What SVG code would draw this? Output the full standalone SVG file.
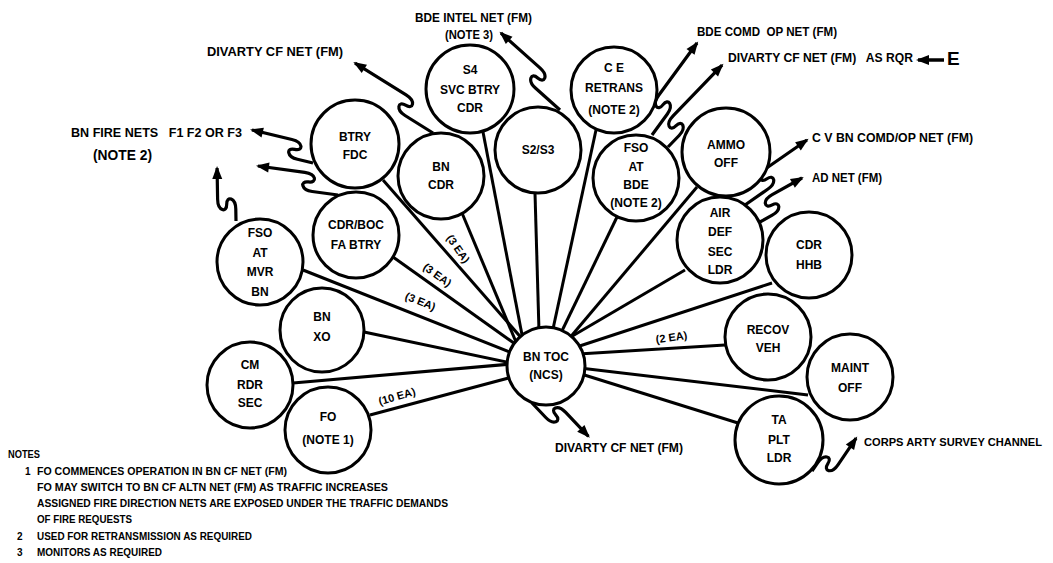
<svg xmlns="http://www.w3.org/2000/svg" width="1053" height="563" viewBox="0 0 1053 563">
<style>
text{font-family:"Liberation Sans",Arial,sans-serif;font-weight:bold;fill:#000}
.n text{font-size:12px;text-anchor:middle}
.n circle{fill:#fff;stroke:#000;stroke-width:3}
.ln line{stroke:#000;stroke-width:3}
.sq{fill:none;stroke:#000;stroke-width:3.2;stroke-linejoin:round;marker-end:url(#ah)}
.lab{font-size:12px}
.ea{font-size:11px;text-anchor:middle;stroke:#fff;stroke-width:4;paint-order:stroke}
.note{font-size:10px}
</style>
<defs>
<marker id="ah" markerUnits="userSpaceOnUse" markerWidth="14" markerHeight="12" refX="11" refY="5" orient="auto" overflow="visible">
<path d="M0,0 L13,5 L0,10 Z" fill="#000"/>
</marker>
</defs>
<rect width="1053" height="563" fill="#fff"/>
<g id="connectors" class="ln">
<line x1="303" y1="270" x2="520" y2="356"/>
<line x1="364" y1="332" x2="540" y2="369"/>
<line x1="293" y1="383" x2="546" y2="361"/>
<line x1="370" y1="415" x2="546" y2="368"/>
<line x1="393" y1="257" x2="546" y2="366"/>
<line x1="383" y1="180" x2="546" y2="366"/>
<line x1="462" y1="213" x2="526" y2="366"/>
<line x1="483" y1="132" x2="528" y2="366"/>
<line x1="535" y1="193" x2="540" y2="366"/>
<line x1="596" y1="130" x2="545" y2="366"/>
<line x1="617" y1="217" x2="545" y2="366"/>
<line x1="697" y1="187" x2="546" y2="366"/>
<line x1="685" y1="270" x2="540" y2="355"/>
<line x1="772" y1="283" x2="546" y2="357"/>
<line x1="725" y1="345" x2="546" y2="356"/>
<line x1="808" y1="395" x2="546" y2="364"/>
<line x1="738" y1="423" x2="546" y2="363"/>
</g>
<g id="link-labels">
<text class="ea" transform="translate(455,251) rotate(55)">(3 EA)</text>
<text class="ea" transform="translate(435,278) rotate(36)">(3 EA)</text>
<text class="ea" transform="translate(419,305) rotate(22)">(3 EA)</text>
<text class="ea" transform="translate(672,341) rotate(-8)">(2 EA)</text>
<text class="ea" transform="translate(398,400) rotate(-16)">(10 EA)</text>
</g>
<g id="radio-nets">
<path class="sq" transform="translate(236,221) rotate(-91)" d="M0,0 H12 C23,0 26,-9 17,-9 C8,-9 10,-18 22,-18 H53.3"/>
<path class="sq" transform="translate(338,195) rotate(-172.3)" d="M0,0 H26 C37,0 40,9 31,9 C22,9 24,18 36,18 H83.2"/>
<path class="sq" transform="translate(313,163) rotate(-166.6)" d="M0,0 H16 C27,0 30,9 21,9 C12,9 14,18 26,18 H67"/>
<path class="sq" transform="translate(433,133) rotate(-148)" d="M0,0 H33 C44,0 47,9 38,9 C29,9 31,18 43,18 H103.2"/>
<path class="sq" transform="translate(560,110) rotate(-138.2)" d="M0,0 H33 C44,0 47,9 38,9 C29,9 31,18 43,18 H95.3"/>
<path class="sq" transform="translate(652,135) rotate(-53.8)" d="M0,0 H26 C37,0 40,-9 31,-9 C22,-9 24,-18 36,-18 H100.8"/>
<path class="sq" transform="translate(668,147) rotate(-46)" d="M0,0 H16 C27,0 30,-9 21,-9 C12,-9 14,-18 26,-18 H96.5"/>
<path class="sq" transform="translate(745,205) rotate(-34.8)" d="M0,0 H28 C39,0 42,-9 33,-9 C24,-9 26,-18 38,-18 H88"/>
<path class="sq" transform="translate(760,222) rotate(-29.1)" d="M0,0 H14 C25,0 28,-9 19,-9 C10,-9 12,-18 24,-18 H58.1"/>
<path class="sq" transform="translate(532,403) rotate(46.5)" d="M0,0 H20 C31,0 34,-9 25,-9 C16,-9 18,-18 30,-18 H63"/>
<path class="sq" transform="translate(812,471) rotate(-55.8)" d="M0,0 H10 C21,0 24,9 15,9 C6,9 8,18 20,18 H52"/>
<line x1="944" y1="60" x2="918" y2="60" stroke="#000" stroke-width="3.5" marker-end="url(#ah)"/>
</g>
<g id="nodes" class="n">
<g id="bn-toc"><circle cx="546" cy="366" r="39"/><text x="546" y="361">BN TOC</text><text x="546" y="379">(NCS)</text></g>
<g id="fso-mvr"><circle cx="260" cy="262" r="43"/><text x="260" y="237">FSO</text><text x="260" y="257">AT</text><text x="260" y="276">MVR</text><text x="260" y="296">BN</text></g>
<g id="bn-xo"><circle cx="322" cy="330" r="42"/><text x="322" y="321">BN</text><text x="322" y="341">XO</text></g>
<g id="cm-rdr"><circle cx="250" cy="385" r="43"/><text x="250" y="369">CM</text><text x="250" y="389">RDR</text><text x="250" y="407">SEC</text></g>
<g id="fo"><circle cx="328" cy="430" r="43"/><text x="328" y="421">FO</text><text x="328" y="444">(NOTE 1)</text></g>
<g id="cdr-boc"><circle cx="356" cy="235" r="43"/><text x="356" y="229">CDR/BOC</text><text x="356" y="249">FA BTRY</text></g>
<g id="btry-fdc"><circle cx="355" cy="144" r="44"/><text x="355" y="141">BTRY</text><text x="355" y="159">FDC</text></g>
<g id="bn-cdr"><circle cx="441" cy="176" r="43"/><text x="441" y="171">BN</text><text x="441" y="189">CDR</text></g>
<g id="s4"><circle cx="470" cy="89" r="44"/><text x="470" y="74">S4</text><text x="470" y="94">SVC BTRY</text><text x="470" y="112">CDR</text></g>
<g id="s2s3"><circle cx="538" cy="150" r="43"/><text x="538" y="154">S2/S3</text></g>
<g id="ce-retrans"><circle cx="614" cy="90" r="43"/><text x="614" y="72">C E</text><text x="614" y="92">RETRANS</text><text x="614" y="114">(NOTE 2)</text></g>
<g id="fso-bde"><circle cx="636" cy="178" r="43"/><text x="636" y="152">FSO</text><text x="636" y="171">AT</text><text x="636" y="189">BDE</text><text x="636" y="207">(NOTE 2)</text></g>
<g id="ammo"><circle cx="726" cy="152" r="44"/><text x="726" y="149">AMMO</text><text x="726" y="167">OFF</text></g>
<g id="air-def"><circle cx="720" cy="240" r="43"/><text x="720" y="217">AIR</text><text x="720" y="236">DEF</text><text x="720" y="256">SEC</text><text x="720" y="274">LDR</text></g>
<g id="cdr-hhb"><circle cx="809" cy="255" r="43"/><text x="809" y="249">CDR</text><text x="809" y="269">HHB</text></g>
<g id="recov"><circle cx="768" cy="337" r="43"/><text x="768" y="334">RECOV</text><text x="768" y="352">VEH</text></g>
<g id="maint"><circle cx="850" cy="377" r="43"/><text x="850" y="372">MAINT</text><text x="850" y="392">OFF</text></g>
<g id="ta-plt"><circle cx="779" cy="440" r="44"/><text x="779" y="424">TA</text><text x="779" y="444">PLT</text><text x="779" y="462">LDR</text></g>
</g>
<g id="net-labels" class="lab">
<text x="207" y="56" textLength="136" lengthAdjust="spacingAndGlyphs">DIVARTY CF NET (FM)</text>
<text x="71" y="137" xml:space="preserve" textLength="171" lengthAdjust="spacingAndGlyphs">BN FIRE NETS   F1 F2 OR F3</text>
<text x="93" y="160" font-size="14" textLength="59" lengthAdjust="spacingAndGlyphs">(NOTE 2)</text>
<text x="415" y="22" textLength="117" lengthAdjust="spacingAndGlyphs">BDE INTEL NET (FM)</text>
<text x="445" y="39" textLength="48" lengthAdjust="spacingAndGlyphs">(NOTE 3)</text>
<text x="697" y="36" xml:space="preserve" textLength="140" lengthAdjust="spacingAndGlyphs">BDE COMD  OP NET (FM)</text>
<text x="728" y="62" xml:space="preserve" textLength="185" lengthAdjust="spacingAndGlyphs">DIVARTY CF NET (FM)   AS RQR</text>
<text x="947" y="65" font-size="19">E</text>
<text x="812" y="142" textLength="161" lengthAdjust="spacingAndGlyphs">C V BN COMD/OP NET (FM)</text>
<text x="812" y="182" textLength="70" lengthAdjust="spacingAndGlyphs">AD NET (FM)</text>
<text x="555" y="452" textLength="128" lengthAdjust="spacingAndGlyphs">DIVARTY CF NET (FM)</text>
<text x="864" y="446" font-size="11" textLength="178" lengthAdjust="spacingAndGlyphs">CORPS ARTY SURVEY CHANNEL</text>
</g>
<g id="notes" class="note">
<text x="8" y="458" textLength="32" lengthAdjust="spacingAndGlyphs">NOTES</text>
<text x="25" y="475">1</text>
<text x="37" y="475" textLength="250" lengthAdjust="spacingAndGlyphs">FO COMMENCES OPERATION IN BN CF NET (FM)</text>
<text x="37" y="491" textLength="351" lengthAdjust="spacingAndGlyphs">FO MAY SWITCH TO BN CF ALTN NET (FM) AS TRAFFIC INCREASES</text>
<text x="37" y="507" textLength="411" lengthAdjust="spacingAndGlyphs">ASSIGNED FIRE DIRECTION NETS ARE EXPOSED UNDER THE TRAFFIC DEMANDS</text>
<text x="37" y="523" textLength="95" lengthAdjust="spacingAndGlyphs">OF FIRE REQUESTS</text>
<text x="17" y="540">2</text>
<text x="37" y="540" textLength="215" lengthAdjust="spacingAndGlyphs">USED FOR RETRANSMISSION AS REQUIRED</text>
<text x="17" y="556">3</text>
<text x="37" y="556" textLength="125" lengthAdjust="spacingAndGlyphs">MONITORS AS REQUIRED</text>
</g>
</svg>
